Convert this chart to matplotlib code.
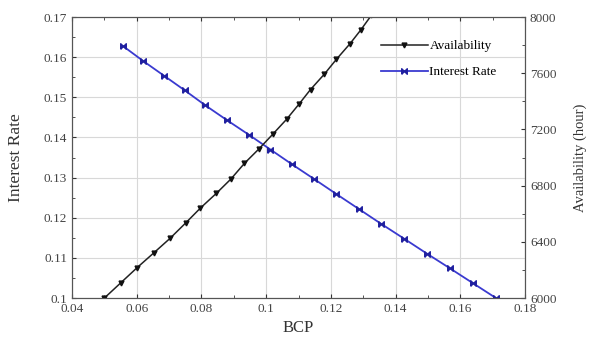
import matplotlib
matplotlib.use("Agg")
import matplotlib.pyplot as plt
from matplotlib.ticker import MultipleLocator

# --- data ---
bcp_avail = [0.0500, 0.0551, 0.0601, 0.0653, 0.0703, 0.0752, 0.0797, 0.0846, 0.0891,
             0.0933, 0.0977, 0.1020, 0.1063, 0.1101, 0.1137, 0.1180, 0.1217, 0.1259,
             0.1292, 0.1325]
availability = [6000, 6109, 6216, 6322, 6425, 6536, 6641, 6745, 6847, 6959, 7060,
                7165, 7272, 7379, 7484, 7594, 7699, 7810, 7907, 8012]

bcp_rate = [0.0557, 0.0619, 0.0684, 0.0749, 0.0812, 0.0879, 0.0946, 0.1013, 0.1080,
            0.1149, 0.1217, 0.1286, 0.1355, 0.1426, 0.1496, 0.1568, 0.1639, 0.1710]
interest_rate = [0.1628, 0.1591, 0.1554, 0.1517, 0.1480, 0.1443, 0.1407, 0.1370, 0.1333,
                 0.1296, 0.1259, 0.1222, 0.1185, 0.1148, 0.1111, 0.1074, 0.1037, 0.1000]

x_ticks = [0.04, 0.06, 0.08, 0.1, 0.12, 0.14, 0.16, 0.18]
x_labels = ['0.04', '0.06', '0.08', '0.1', '0.12', '0.14', '0.16', '0.18']
y_ticks = [0.1, 0.11, 0.12, 0.13, 0.14, 0.15, 0.16, 0.17]
y_labels = ['0.1', '0.11', '0.12', '0.13', '0.14', '0.15', '0.16', '0.17']

plt.rcParams['font.family'] = ['Liberation Serif', 'DejaVu Serif']

fig = plt.figure(figsize=(5.9, 3.47), dpi=100)
ax = fig.add_axes([0.122, 0.141, 0.768, 0.810])
ax2 = ax.twinx()

# horizontal bow-tie marker like the original
bowtie = [(-1, -1), (-1, 1), (0, 0), (1, 1), (1, -1), (0, 0), (-1, -1)]

l_rate, = ax.plot(bcp_rate, interest_rate, color='#3a3ad0', lw=1.3,
                  marker=bowtie, ms=4, mfc='#2020a0', mec='#2020a0', label='Interest Rate')
l_av, = ax2.plot(bcp_avail, availability, color='#222222', lw=1.1,
                 marker='v', ms=3.5, mfc='#111111', mec='#111111', label='Availability')

ax.set_xlim(0.04, 0.18)
ax.set_ylim(0.1, 0.17)
ax2.set_ylim(6000, 8000)

ax.xaxis.set_minor_locator(MultipleLocator(0.01))
ax.yaxis.set_minor_locator(MultipleLocator(0.005))
ax2.yaxis.set_major_locator(MultipleLocator(400))
ax2.yaxis.set_minor_locator(MultipleLocator(200))

ax.set_xticks(x_ticks)
ax.set_xticklabels(x_labels)
ax.set_yticks(y_ticks)
ax.set_yticklabels(y_labels)

ax.grid(True, which='major', color='#d8d8d8', lw=0.8)
ax.set_axisbelow(True)

for a in (ax, ax2):
    a.tick_params(which='both', direction='in', labelsize=9.5, colors='#333333',
                  labelcolor='#444444')
    a.tick_params(which='major', length=3)
    a.tick_params(which='minor', length=2)
    for s in a.spines.values():
        s.set_color('#555555')
        s.set_linewidth(0.8)
ax.tick_params(which='both', top=True)

ax.set_xlabel('BCP', fontsize=12, color='#333333')
ax.set_ylabel('Interest Rate', fontsize=12.5, color='#333333', labelpad=14)
ax2.set_ylabel('Availability (hour)', fontsize=10.5, color='#333333', labelpad=12)

ax.legend([l_av, l_rate], ['Availability', 'Interest Rate'], loc='upper left',
          bbox_to_anchor=(0.655, 0.96), frameon=False, fontsize=9.5,
          handlelength=3.6, handletextpad=0.1, labelspacing=1.05)

fig.savefig('out.png', dpi=100)
